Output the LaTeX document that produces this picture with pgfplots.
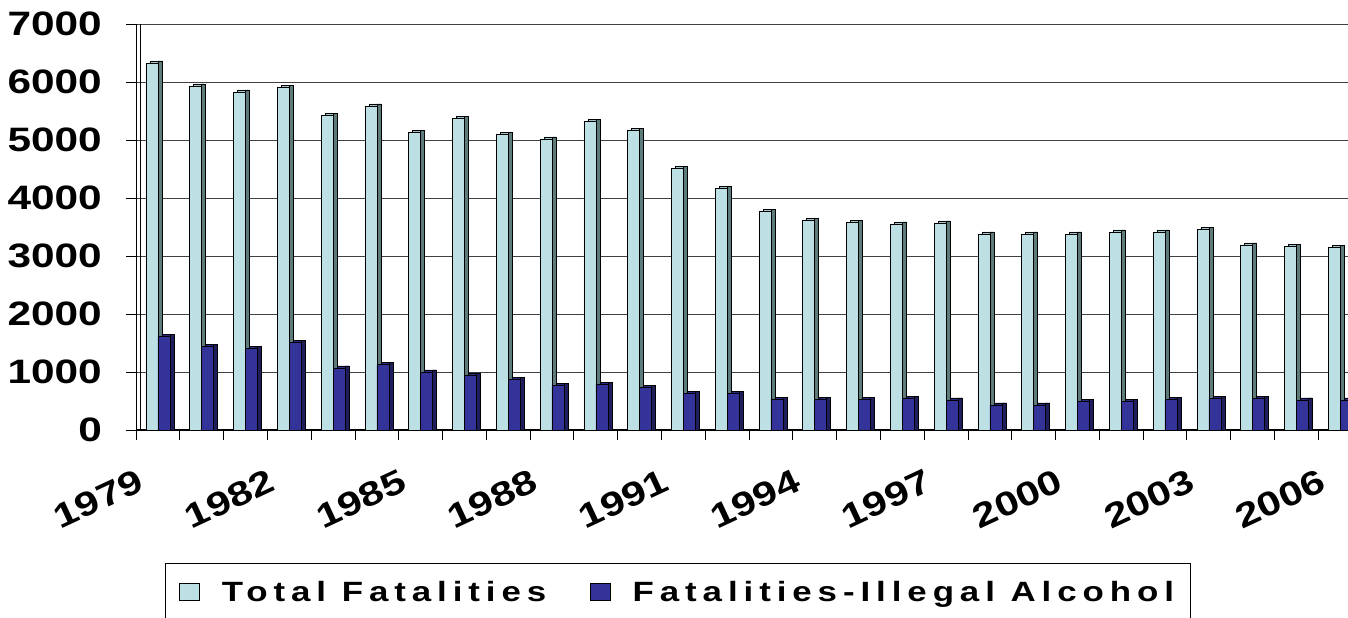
\documentclass[border=0pt]{standalone}
\usepackage{graphicx}
\usepackage{fontspec}
\setmainfont{Liberation Sans}
\newfontfamily\tickfont{Liberation Sans Bold}
\newfontfamily\legfont{Liberation Sans Bold}[LetterSpace=17]
\usepackage{pgfplots}
\pgfplotsset{compat=1.18}
\usepackage{pgfplotstable}

\definecolor{totF}{HTML}{BDE0E5}
\definecolor{totS}{HTML}{5E7B7B}
\definecolor{totT}{HTML}{A3C6CB}
\definecolor{alcF}{HTML}{333399}
\definecolor{alcS}{HTML}{1E1E5C}
\definecolor{alcT}{HTML}{2A2A85}

\newcommand{\wide}[1]{\scalebox{1.25}[1]{#1}}

\pgfplotstableread{
x year total alc
0 1979 6330 1620
1 1980 5931 1437
2 1981 5828 1402
3 1982 5902 1506
4 1983 5425 1069
5 1984 5586 1126
6 1985 5126 1000
7 1986 5368 948
8 1987 5098 874
9 1988 5020 770
10 1989 5326 789
11 1990 5166 731
12 1991 4514 629
13 1992 4171 629
14 1993 3771 526
15 1994 3611 526
16 1995 3583 526
17 1996 3554 549
18 1997 3570 517
19 1998 3379 431
20 1999 3379 431
21 2000 3379 494
22 2001 3414 494
23 2002 3414 529
24 2003 3460 540
25 2004 3190 540
26 2005 3167 517
27 2006 3144 517
}\data

\begin{document}
\begin{tikzpicture}
\begin{axis}[
  at={(136bp,188bp)}, anchor=south west,
  scale only axis, width=1226bp, height=406bp,
  xmin=-0.5, xmax=27.5, ymin=0, ymax=7000,
  axis x line*=bottom, axis y line*=left,
  x axis line style={line width=1.6pt, black},
  y axis line style={line width=0.8pt, black},
  ytick={0,1000,...,7000},
  yticklabels={\wide{0},\wide{1000},\wide{2000},\wide{3000},\wide{4000},\wide{5000},\wide{6000},\wide{7000}},
  ymajorgrids, grid style={draw=black!75, line width=0.9pt},
  tick align=outside, major tick length=10bp,
  tick style={black, line width=0.8pt},
  xtick={-0.5,0.5,...,27.5}, xticklabels={},
  extra x ticks={0,3,6,9,12,15,18,21,24,27},
  extra x tick labels={\wide{1979},\wide{1982},\wide{1985},\wide{1988},\wide{1991},\wide{1994},\wide{1997},\wide{2000},\wide{2003},\wide{2006}},
  extra x tick style={major tick length=0pt, grid=none,
    xticklabel style={inner sep=0pt, xshift=-22bp, yshift=-38bp, rotate=25, anchor=north east}},
  ticklabel style={font=\tickfont\fontsize{34}{40}\selectfont},
  yticklabel style={inner sep=0pt, anchor=east, xshift=-24bp},
  legend columns=2,
  legend image code/.code={\path[draw=none, fill=none] (0bp,0bp) -- (40bp,0bp);\draw[#1, draw=black, line width=0.6pt] (0bp,-8bp) rectangle (20bp,9bp);},
  legend style={at={(0,0)}, anchor=north west, xshift=29bp, yshift=-133bp,
    draw=black, line width=1pt, inner xsep=14bp, inner ysep=16bp,
    font=\legfont\fontsize{28}{32}\selectfont,
    /tikz/every even column/.append style={column sep=42bp}},
]
% Total fatalities (3D look: back/top, side, front)
\addplot[ybar, forget plot, bar width=12bp, bar shift=-2bp, fill=totT, draw=black, line width=0.5pt]
  table[x=x, y expr=\thisrow{total}+35] {\data};
\addplot[ybar, forget plot, bar width=4bp, bar shift=2bp, fill=totS, draw=black, line width=0.5pt]
  table[x=x, y expr=\thisrow{total}+35] {\data};
\addplot[ybar, bar width=12bp, bar shift=-6bp, fill=totF, draw=black, line width=0.5pt]
  table[x=x, y=total] {\data};
\addlegendentry{\wide{Total Fatalities}}
% Illegal alcohol
\addplot[ybar, forget plot, bar width=12bp, bar shift=10bp, fill=alcT, draw=black, line width=0.5pt]
  table[x=x, y expr=\thisrow{alc}+35] {\data};
\addplot[ybar, forget plot, bar width=4bp, bar shift=14bp, fill=alcS, draw=black, line width=0.5pt]
  table[x=x, y expr=\thisrow{alc}+35] {\data};
\addplot[ybar, bar width=12bp, bar shift=6bp, fill=alcF, draw=black, line width=0.5pt]
  table[x=x, y=alc] {\data};
\addlegendentry{\wide{Fatalities-Illegal Alcohol}\hspace{4bp}}
\draw[line width=0.8pt] ([xshift=4bp]rel axis cs:0,0) -- ([xshift=4bp]rel axis cs:0,1);
\end{axis}
\pgfresetboundingbox
\useasboundingbox (0,0) rectangle (1348bp,618bp);
\end{tikzpicture}
\end{document}
